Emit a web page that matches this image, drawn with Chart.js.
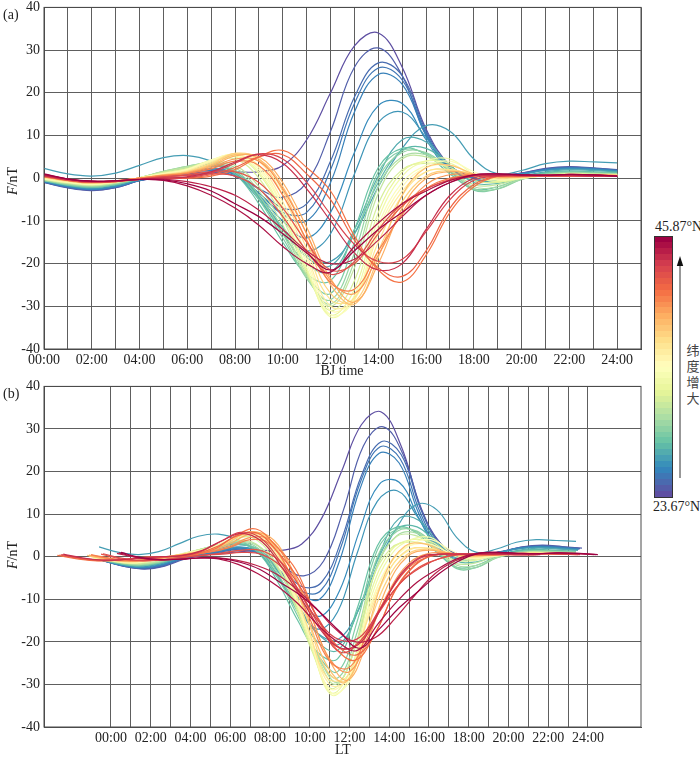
<!DOCTYPE html>
<html>
<head>
<meta charset="utf-8">
<script src="https://cdn.jsdelivr.net/npm/chart.js@4.4.1/dist/chart.umd.min.js"></script>
<style>
  body { margin: 0; background: #fff; width: 700px; height: 758px; position: relative; overflow: hidden;
         font-family: "Liberation Serif", "DejaVu Serif", serif; color: #222; }
  canvas { position: absolute; left: 0; }
  .lbl { position: absolute; font-size: 14px; line-height: 16px; white-space: nowrap; }
  .ytitle { position: absolute; width: 60px; text-align: center; font-size: 14px; line-height: 16px; transform: rotate(-90deg); }
  .cjk { position: absolute; font-family: "Noto Sans CJK SC", sans-serif; font-size: 13px; line-height: 16px; color: #444; width: 16px; text-align: center; }
</style>
</head>
<body>
<canvas id="chartBJ" width="650" height="379" style="top:-5px"></canvas>
<canvas id="chartLT" width="650" height="378" style="top:374px"></canvas>
<canvas id="colorBar" width="17" height="260" style="left:654px; top:236px; border:1px solid #333"></canvas>

<div class="lbl" style="left:3px; top:7px">(a)</div>
<div class="lbl" style="left:3px; top:386px">(b)</div>
<div class="ytitle" style="left:-17px; top:173px"><i>F</i>/nT</div>
<div class="ytitle" style="left:-17px; top:547px"><i>F</i>/nT</div>
<div class="lbl" style="left:342px; top:363px; transform:translateX(-50%)">BJ time</div>
<div class="lbl" style="left:343px; top:742px; transform:translateX(-50%)">LT</div>
<div class="lbl" style="left:655px; top:219px">45.87°N</div>
<div class="lbl" style="left:653px; top:499px">23.67°N</div>
<div class="cjk" style="left:685px; top:342px">纬<br>度<br>增<br>大</div>
<svg style="position:absolute; left:675px; top:255px" width="12" height="226">
  <line x1="5" y1="9" x2="5" y2="223" stroke="#333" stroke-width="1"/>
  <polygon points="5,1 1.8,11 8.2,11" fill="#111"/>
</svg>

<script>
// 시간축 (北京时间, 시)
const hoursBJ = [0,1,2,3,4,5,6,7,8,9,10,11,12,13,14,15,16,17,18,19,20,21,22,23,24];
const gridHoursBJ = [0,1,2,3,4,5,6,7,8,9,10,11,12,13,14,15,16,17,18,19,20,21,22,23,24,25];
const gridHoursLT = [0,1,2,3,4,5,6,7,8,9,10,11,12,13,14,15,16,17,18,19,20,21,22,23,24];
const yTicks = [-40,-30,-20,-10,0,10,20,30,40];

// 색상 막대 범위 (위도)
const latMin = 23.67;
const latMax = 45.87;

// 저위도 관측소 (청색/보라) : 위도, 경도에 의한 지방시 차(시), F 값(nT)
const lowLat = [23.67, 24.3, 24.8, 25.2, 25.6, 26.0, 26.4, 26.7, 27.2, 27.7];
const lowShift = [-0.4, -0.3, -0.4, -0.45, -0.5, -0.5, -0.6, -0.6, -0.5, -0.6];
const lowF = [
  [-1.0,-2.2,-2.8,-2.2,-0.6,0.3,0.8,1.2,1.5,1.5,3.0,9.0,20.0,31.0,34.0,26.0,11.5,3.0,0.5,0.5,1.2,2.2,2.6,2.3,1.9],
  [-1.0,-2.3,-2.9,-2.2,-0.6,0.4,1.0,1.5,0.5,-2.5,-4.5,-1.0,11.0,26.0,30.5,24.0,10.0,2.5,0.3,0.5,1.2,2.3,2.7,2.4,2.0],
  [-0.9,-2.1,-2.7,-2.1,-0.5,0.4,1.2,1.8,1.0,-2.5,-7.0,-6.0,4.0,19.0,27.0,24.0,11.0,2.5,0.2,0.4,1.1,2.1,2.5,2.3,1.9],
  [-0.9,-2.0,-2.6,-2.0,-0.5,0.5,1.3,1.8,0.5,-3.5,-8.0,-8.0,2.0,17.5,25.8,23.0,10.5,2.2,0.1,0.4,1.0,2.0,2.4,2.2,1.8],
  [-0.8,-2.0,-2.6,-2.0,-0.5,0.5,1.3,2.0,0.8,-3.5,-8.5,-10.0,-1.0,15.5,24.3,22.0,10.0,2.0,0.0,0.4,1.0,2.0,2.4,2.2,1.8],
  [-0.8,-1.9,-2.5,-1.9,-0.4,0.6,1.5,2.2,1.0,-4.0,-10.0,-14.0,-8.0,6.0,17.0,17.5,9.0,1.5,-0.2,0.3,1.0,1.9,2.3,2.1,1.7],
  [-0.7,-1.8,-2.4,-1.8,-0.4,0.7,1.6,2.3,1.0,-4.5,-11.5,-17.0,-13.0,1.0,13.0,15.5,9.5,2.0,-0.5,0.2,0.9,1.8,2.2,2.0,1.6],
  [2.3,1.0,0.5,1.2,3.0,4.8,5.3,4.0,1.0,-5.0,-12.0,-18.0,-19.5,-13.0,-2.0,7.0,12.3,11.0,4.5,1.0,1.8,3.4,4.0,3.8,3.6],
  [-0.6,-1.7,-2.2,-1.6,-0.2,1.0,2.0,2.8,1.5,-4.0,-12.0,-18.5,-20.5,-12.0,0.5,9.0,8.5,3.0,-0.5,-0.5,0.5,1.5,2.0,1.8,1.5],
  [-0.5,-1.6,-2.1,-1.5,-0.2,1.2,2.2,3.0,1.5,-4.5,-13.0,-20.0,-22.0,-13.0,-1.0,6.5,7.0,3.0,-1.0,-1.2,0.2,1.3,1.7,1.5,1.3]
];

// 중위도 관측소 (녹색/황색)
const midLat = [28.2, 28.9, 29.6, 30.3, 31.2, 32.0, 32.8, 33.6, 34.4, 35.2, 36.0];
const midShift = [-0.6, -0.6, -0.6, -0.6, -0.7, -0.9, -0.9, -0.9, -0.9, -1.0, -1.0];
const midF = [
  [-0.6,-1.6,-2.1,-1.5,-0.1,1.3,2.4,3.2,1.0,-6.0,-15.0,-22.5,-24.0,-12.0,2.5,7.0,5.5,1.0,-2.5,-2.0,0.0,1.2,1.5,1.4,1.2],
  [-0.5,-1.5,-2.0,-1.4,0.0,1.5,2.6,3.4,1.5,-5.0,-14.0,-23.0,-27.0,-15.0,1.5,6.5,5.8,1.5,-2.8,-2.5,-0.2,1.0,1.4,1.3,1.1],
  [-0.5,-1.4,-1.9,-1.3,0.1,1.6,2.8,3.5,2.0,-4.0,-13.0,-23.5,-28.5,-17.5,0.0,6.0,6.0,2.0,-2.5,-2.5,-0.3,0.9,1.3,1.2,1.0],
  [-0.4,-1.3,-1.8,-1.2,0.1,1.6,2.8,3.6,2.5,-3.0,-12.0,-23.0,-29.5,-19.5,-2.0,5.0,5.5,2.0,-2.0,-2.0,-0.2,0.8,1.2,1.1,1.0],
  [-0.3,-1.2,-1.7,-1.1,0.1,1.5,2.6,3.8,3.0,-2.0,-11.0,-22.5,-30.0,-21.0,-3.5,4.5,5.0,2.0,-1.5,-1.5,0.0,0.8,1.1,1.0,0.9],
  [-0.3,-1.1,-1.6,-1.0,0.1,1.3,2.3,4.0,4.5,0.0,-9.5,-22.0,-31.0,-24.0,-6.0,2.0,3.5,2.5,-0.5,-1.0,0.0,0.7,1.0,0.9,0.8],
  [-0.2,-1.0,-1.5,-0.9,0.1,1.2,2.2,4.2,5.0,1.0,-8.5,-21.5,-32.0,-26.0,-8.0,1.5,4.0,3.5,0.5,-0.8,0.0,0.6,1.0,0.9,0.8],
  [-0.2,-1.0,-1.4,-0.9,0.1,1.1,2.1,4.3,5.3,1.5,-8.0,-21.0,-32.5,-27.5,-9.5,0.5,4.0,4.5,1.0,-0.5,0.0,0.6,0.9,0.8,0.7],
  [-0.1,-0.9,-1.4,-0.8,0.1,1.0,2.0,4.2,5.5,2.0,-7.0,-20.0,-32.0,-28.5,-11.0,-1.0,3.0,4.0,1.5,-0.3,0.1,0.6,0.9,0.8,0.7],
  [0.0,-0.8,-1.3,-0.8,0.1,1.0,1.9,4.0,5.6,2.5,-6.5,-19.0,-31.0,-28.0,-12.0,-2.0,2.5,3.0,1.0,-0.3,0.1,0.6,0.9,0.8,0.7],
  [0.0,-0.8,-1.3,-0.8,0.0,0.9,1.8,3.8,5.6,3.0,-5.5,-18.0,-30.0,-28.5,-13.0,-3.0,1.5,2.0,0.8,-0.2,0.1,0.6,0.8,0.8,0.7]
];

// 주황색 관측소
const orangeLat = [36.8, 37.6, 38.4, 39.2, 40.0, 40.8];
const orangeShift = [-1.1, -1.1, -1.2, -1.1, -1.0, -1.0];
const orangeF = [
  [0.2,-0.7,-1.2,-0.8,0.0,0.8,1.6,3.5,5.8,4.0,-4.0,-16.5,-28.5,-28.0,-15.0,-4.0,1.5,2.0,0.8,0.0,0.2,0.6,0.8,0.8,0.7],
  [0.3,-0.6,-1.1,-0.7,0.0,0.8,1.5,3.3,5.8,4.5,-3.0,-15.0,-27.0,-29.0,-17.0,-5.5,0.5,1.8,0.9,0.2,0.3,0.6,0.8,0.8,0.7],
  [0.3,-0.6,-1.1,-0.7,0.0,0.7,1.4,3.0,5.5,4.5,-2.0,-13.0,-25.0,-29.5,-18.5,-4.0,2.5,3.0,1.0,0.2,0.3,0.6,0.8,0.7,0.6],
  [0.4,-0.5,-1.0,-0.6,0.0,0.7,1.3,2.8,5.2,5.0,-1.0,-11.5,-23.5,-29.0,-20.0,-7.0,0.0,1.5,0.9,0.3,0.3,0.6,0.7,0.7,0.6],
  [0.4,-0.5,-1.0,-0.6,0.0,0.6,1.2,2.5,4.5,4.0,-2.5,-13.0,-24.0,-27.0,-18.0,-8.0,-1.5,0.8,0.8,0.4,0.4,0.6,0.7,0.7,0.6],
  [0.5,-0.4,-0.9,-0.6,0.0,0.6,1.1,2.2,4.0,3.0,-4.0,-14.5,-24.5,-26.0,-17.0,-8.5,-2.5,0.0,0.8,0.5,0.4,0.6,0.7,0.7,0.6]
];

// 서부 관측소 (적색, 지방시 차가 큼)
const westLat = [41.2, 41.8, 43.4, 44.2];
const westShift = [-2.7, -2.6, -2.5, -2.4];
const westF = [
  [0.3,-0.5,-1.0,-0.8,-0.3,0.0,0.0,0.5,2.0,5.0,6.5,2.5,-3.0,-13.5,-21.5,-24.3,-18.0,-8.0,-2.0,0.5,0.6,0.5,0.5,0.5,0.5],
  [0.4,-0.4,-0.9,-0.8,-0.3,0.0,0.0,0.8,2.5,5.0,5.5,1.0,-5.0,-14.5,-21.0,-23.0,-17.0,-7.0,-1.5,0.5,0.6,0.5,0.5,0.5,0.5],
  [0.5,-0.3,-0.8,-0.7,-0.3,0.0,0.2,1.2,3.5,5.7,4.5,-1.0,-8.5,-15.5,-19.5,-19.0,-12.5,-5.0,-0.5,0.5,0.6,0.6,0.6,0.5,0.5],
  [0.6,-0.3,-0.8,-0.7,-0.3,0.0,0.3,1.5,3.8,5.5,3.5,-2.5,-10.0,-17.5,-21.5,-20.0,-12.0,-4.0,0.0,0.6,0.6,0.6,0.6,0.5,0.5]
];

// 북부 관측소 (진홍색)
const northLat = [42.5, 43.0, 44.7, 45.3, 45.87];
const northShift = [-0.5, -0.4, 0.3, 0.4, 0.5];
const northF = [
  [0.6,-0.5,-1.0,-0.8,-0.2,0.3,0.8,1.5,1.5,-1.0,-7.0,-15.0,-21.5,-20.0,-13.0,-6.5,-2.5,-0.5,0.5,0.6,0.6,0.6,0.7,0.6,0.5],
  [0.7,-0.4,-0.9,-0.7,-0.2,0.3,0.6,1.0,0.5,-2.5,-9.0,-17.0,-22.5,-19.5,-12.0,-6.0,-2.5,-0.3,0.6,0.6,0.6,0.6,0.7,0.6,0.5],
  [0.8,-0.2,-0.7,-0.6,-0.3,-0.2,-0.8,-2.0,-4.0,-7.5,-12.0,-17.0,-20.0,-19.0,-14.5,-9.0,-4.0,-1.0,0.6,0.8,0.7,0.7,0.8,0.7,0.5],
  [0.9,-0.2,-0.7,-0.6,-0.3,-0.5,-1.8,-4.0,-7.0,-11.0,-16.0,-20.0,-22.0,-16.0,-10.5,-6.0,-3.0,-0.5,0.8,1.0,0.8,0.7,0.9,0.8,0.5],
  [1.0,-0.2,-0.7,-0.6,-0.3,-0.4,-1.3,-3.0,-6.0,-9.0,-13.0,-17.5,-21.5,-17.0,-12.0,-8.0,-4.0,-1.0,0.8,1.0,0.8,0.7,0.9,0.8,0.5]
];

// Spectral 색상표 (저위도 -> 고위도)
const spectral = ["#5e4fa2","#3288bd","#66c2a5","#abdda4","#e6f598","#ffffbf","#fee08b","#fdae61","#f46d43","#d53e4f","#9e0142"];

function hexToRgb(h) {
  return [parseInt(h.slice(1, 3), 16), parseInt(h.slice(3, 5), 16), parseInt(h.slice(5, 7), 16)];
}

function colorAt(t) {
  t = Math.max(0, Math.min(1, t));
  const p = t * (spectral.length - 1);
  const i = Math.min(Math.floor(p), spectral.length - 2);
  const f = p - i;
  const a = hexToRgb(spectral[i]);
  const b = hexToRgb(spectral[i + 1]);
  const c = a.map((v, k) => Math.round(v + (b[k] - v) * f));
  return `rgb(${c[0]},${c[1]},${c[2]})`;
}

function latColor(lat) {
  return colorAt((lat - latMin) / (latMax - latMin));
}

// 관측소별 데이터셋 생성
function buildDatasets(useLT) {
  const groups = [
    [lowLat, lowShift, lowF],
    [midLat, midShift, midF],
    [orangeLat, orangeShift, orangeF],
    [westLat, westShift, westF],
    [northLat, northShift, northF],
  ];
  const sets = [];
  groups.forEach(([lats, shifts, values]) => {
    values.forEach((row, i) => {
      const dx = useLT ? shifts[i] : 0;
      sets.push({
        data: row.map((v, k) => ({ x: hoursBJ[k] + dx, y: v })),
        borderColor: latColor(lats[i]),
        borderWidth: 1.2,
        pointRadius: 0,
        fill: false,
        tension: 0.4,
        order: -lats[i],
      });
    });
  });
  return sets;
}

// 그림 영역 테두리
const framePlugin = {
  id: "frame",
  afterDraw(chart) {
    const { ctx, chartArea: a } = chart;
    ctx.save();
    ctx.strokeStyle = "#4a4a4a";
    ctx.lineWidth = 1;
    ctx.strokeRect(a.left, a.top, a.right - a.left, a.bottom - a.top);
    ctx.restore();
  },
};

const tickFont = { family: "Liberation Serif", size: 14 };

function drawPanel(canvasId, useLT, xMin, xMax, gridHours) {
  const ctx = document.getElementById(canvasId).getContext("2d");
  new Chart(ctx, {
    type: "line",
    data: { datasets: buildDatasets(useLT) },
    options: {
      responsive: false,
      animation: false,
      events: [],
      layout: { padding: { top: 7, right: 9, left: 0, bottom: 0 } },
      plugins: { legend: { display: false }, tooltip: { enabled: false } },
      scales: {
        x: {
          type: "linear",
          min: xMin,
          max: xMax,
          afterBuildTicks: (s) => { s.ticks = gridHours.map((v) => ({ value: v })); },
          afterFit: (s) => { s.height = 25; },
          ticks: {
            autoSkip: false,
            maxRotation: 0,
            padding: 3,
            color: "#222",
            font: tickFont,
            callback: (v) => (v % 2 === 0 && v <= 24 ? String(v).padStart(2, "0") + ":00" : ""),
          },
          grid: { color: "#5e5e5e", lineWidth: 1, drawTicks: false },
          border: { color: "#4a4a4a" },
        },
        y: {
          min: -40,
          max: 40,
          afterBuildTicks: (s) => { s.ticks = yTicks.map((v) => ({ value: v })); },
          afterFit: (s) => { s.width = 44; },
          ticks: { padding: 4, color: "#222", font: tickFont },
          grid: { color: "#5e5e5e", lineWidth: 1, drawTicks: false },
          border: { color: "#4a4a4a" },
        },
      },
    },
    plugins: [framePlugin],
  });
}

// 색상 막대
function drawColorBar() {
  const cv = document.getElementById("colorBar");
  const c = cv.getContext("2d");
  const bands = 44;
  const h = cv.height / bands;
  for (let i = 0; i < bands; i++) {
    c.fillStyle = colorAt(1 - i / (bands - 1));
    c.fillRect(0, Math.floor(i * h), cv.width, Math.ceil(h) + 1);
  }
}

document.addEventListener("DOMContentLoaded", () => {
  drawPanel("chartBJ", false, 0, 25, gridHoursBJ);
  drawPanel("chartLT", true, -3.37, 26.67, gridHoursLT);
  drawColorBar();
});
</script>
</body>
</html>
